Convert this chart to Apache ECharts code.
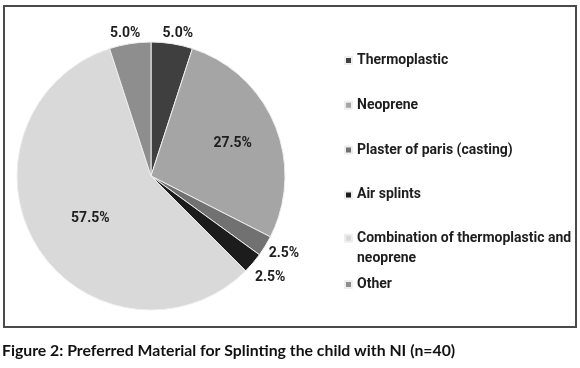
<!DOCTYPE html>
<html>
<head>
<meta charset="utf-8">
<script src="https://cdn.jsdelivr.net/npm/echarts@6/dist/echarts.min.js"></script>
<style>
  html, body { margin: 0; padding: 0; background: #fff; }
  #chart { width: 580px; height: 368px; }
</style>
</head>
<body>
<div id="chart"></div>
<script>
// Preferred material for splinting (n=40), percentages
const materials = [
  "Thermoplastic",
  "Neoprene",
  "Plaster of paris (casting)",
  "Air splints",
  "Combination of thermoplastic and neoprene",
  "Other"
];
const shares = [5.0, 27.5, 2.5, 2.5, 57.5, 5.0];
const sliceColors = ["#3f3f3f", "#a5a5a5", "#717171", "#1c1c1c", "#d9d9d9", "#8e8e8e"];
const labelInside = [false, true, false, false, true, false];
// small nudges so labels sit where the original put them
const labelNudge = [[-15, -6], [17, -6], [-5, 5], [-6, 12], [-1, 6], [16, -6]];
const legendText = {
  "Combination of thermoplastic and neoprene": "\nCombination of thermoplastic and\nneoprene"
};

const FONT = "Roboto, 'Liberation Sans', Arial, sans-serif";

const chart = echarts.init(document.getElementById("chart"));

// one legend block per entry so the two-line entry keeps the even spacing
const legends = materials.map((name, i) => ({
  data: [name],
  left: 339,
  top: legendText[name] ? 45.5 + i * 44.8 - 21.5 : 45.5 + i * 44.8,
  orient: "vertical",
  icon: "rect",
  itemWidth: 7,
  itemHeight: 7,
  itemGap: 0,
  selectedMode: false,
  formatter: (n) => legendText[n] || n,
  textStyle: {
    fontFamily: FONT,
    fontSize: 14,
    fontWeight: "bold",
    color: "#1e1e1e",
    lineHeight: 20,
    padding: [0, 0, 0, 0]
  }
}));

chart.setOption({
  animation: false,
  title: {
    text: "Figure 2: Preferred Material for Splinting the child with NI (n=40)",
    left: 2,
    top: 343,
    padding: 0,
    textStyle: {
      fontFamily: "Lato, 'Open Sans', sans-serif",
      fontSize: 15.8,
      fontWeight: "bold",
      color: "#111"
    }
  },
  legend: legends,
  graphic: [{
    type: "rect",
    shape: { x: 4, y: 6, width: 572, height: 321 },
    style: { fill: "none", stroke: "#4a4a4a", lineWidth: 2 },
    silent: true
  }],
  series: [{
    type: "pie",
    center: [151, 176],
    radius: 134,
    startAngle: 90,
    clockwise: true,
    avoidLabelOverlap: false,
    itemStyle: { borderColor: "#eeeeee", borderWidth: 1 },
    labelLine: { show: false, length: 4, length2: 0 },
    label: {
      fontFamily: FONT,
      fontSize: 14,
      fontWeight: "bold",
      color: "#1e1e1e",
      formatter: (p) => p.value.toFixed(1) + "%"
    },
    labelLayout: (p) => ({ dx: labelNudge[p.dataIndex][0], dy: labelNudge[p.dataIndex][1] }),
    data: materials.map((name, i) => ({
      name,
      value: shares[i],
      itemStyle: { color: sliceColors[i] },
      label: { position: labelInside[i] ? "inside" : "outside" }
    }))
  }]
});
</script>
</body>
</html>
